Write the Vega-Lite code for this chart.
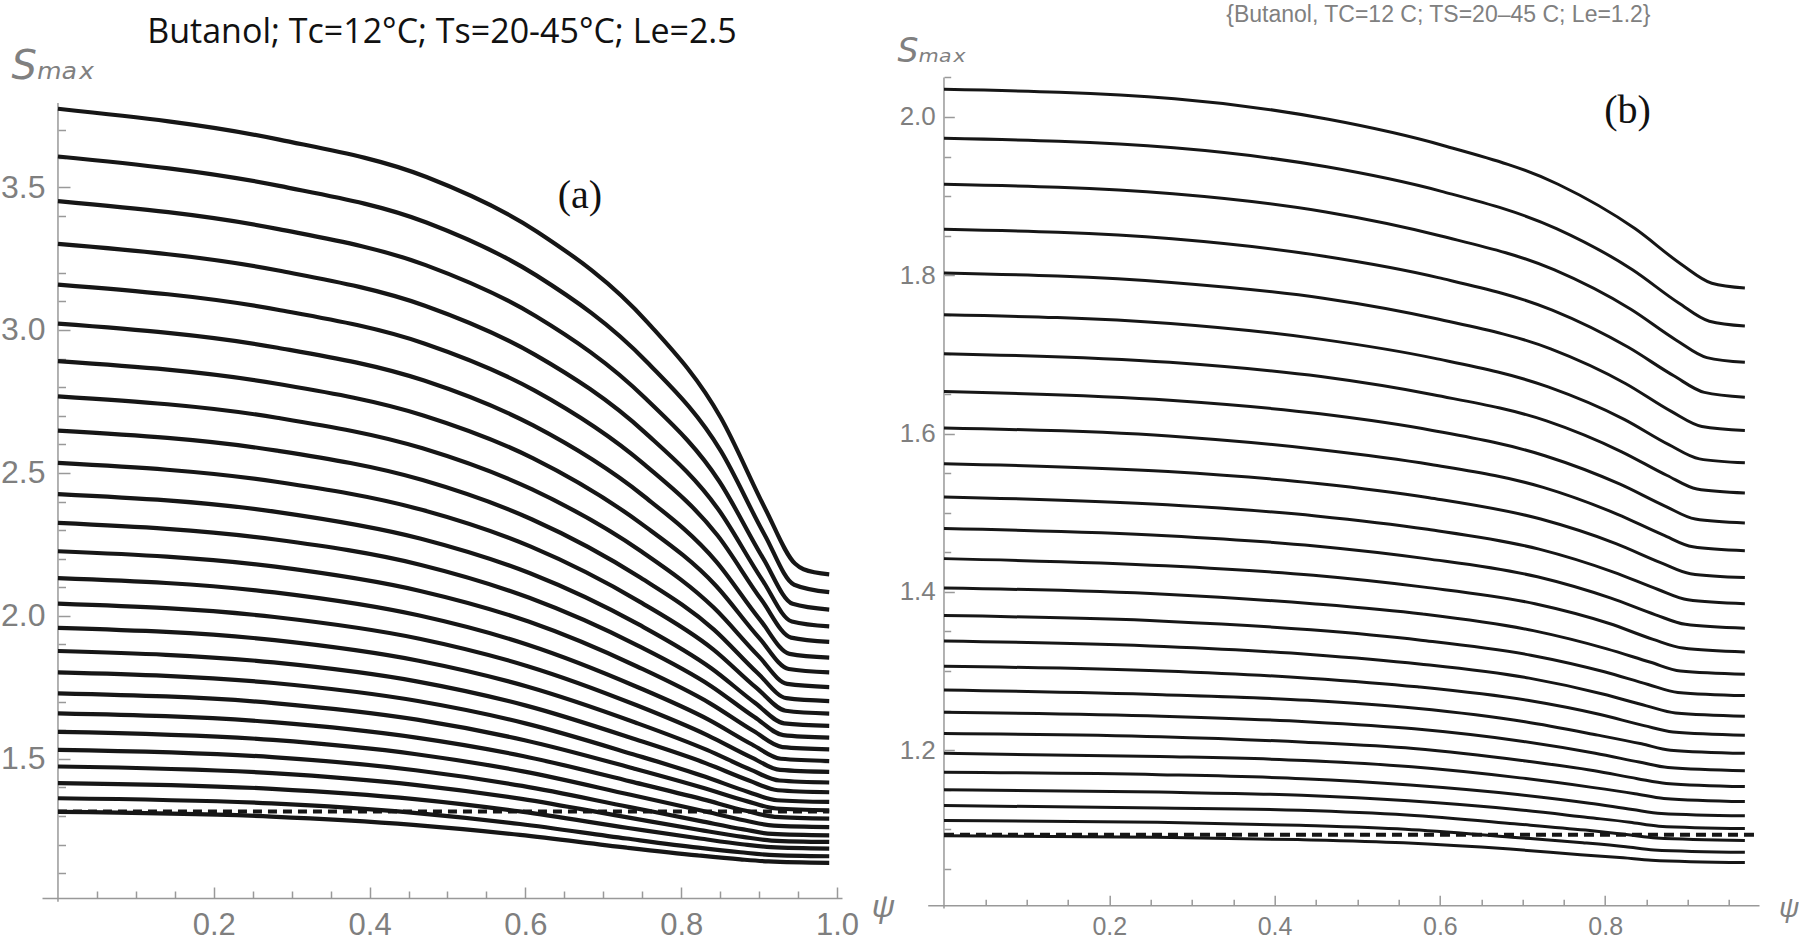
{
"$schema":"https://vega.github.io/schema/vega-lite/v6.json",
"background":"white",
"padding":{"left":0,"top":4,"right":0,"bottom":0},
"bounds":"flush",
"spacing":85.7,
"config":{"view":{"stroke":null}},
"datasets":{
"LA":[{"x":0,"y":1.0,"y2":3.794}],
"RA":[{"x":0,"y":1.0,"y2":2.05}],
"LD":[{"x":0,"y":1.316},{"x":0.99,"y":1.316}],
"RD":[{"x":0,"y":1.093},{"x":0.985,"y":1.093}],
"LT":[{"t":"(a)","x":0.67,"y":3.469}],
"RT":[{"t":"(b)","x":0.827,"y":2.007}],
"L":[
{"c":1,"x":0,"y":3.774},{"c":1,"x":0.284,"y":3.666},{"c":1,"x":0.473,"y":3.535},{"c":1,"x":0.615,"y":3.344},{"c":1,"x":0.757,"y":3.026},{"c":1,"x":0.851,"y":2.692},{"c":1,"x":0.908,"y":2.374},{"c":1,"x":0.946,"y":2.183},{"c":1,"x":0.957,"y":2.163},{"c":1,"x":0.99,"y":2.145},
{"c":2,"x":0,"y":3.607},{"c":2,"x":0.284,"y":3.504},{"c":2,"x":0.473,"y":3.376},{"c":2,"x":0.614,"y":3.191},{"c":2,"x":0.756,"y":2.888},{"c":2,"x":0.851,"y":2.576},{"c":2,"x":0.907,"y":2.284},{"c":2,"x":0.945,"y":2.109},{"c":2,"x":0.99,"y":2.083},
{"c":3,"x":0,"y":3.451},{"c":3,"x":0.283,"y":3.353},{"c":3,"x":0.472,"y":3.227},{"c":3,"x":0.613,"y":3.049},{"c":3,"x":0.754,"y":2.761},{"c":3,"x":0.849,"y":2.470},{"c":3,"x":0.905,"y":2.202},{"c":3,"x":0.943,"y":2.042},{"c":3,"x":0.99,"y":2.022},
{"c":4,"x":0,"y":3.301},{"c":4,"x":0.283,"y":3.208},{"c":4,"x":0.471,"y":3.085},{"c":4,"x":0.612,"y":2.914},{"c":4,"x":0.754,"y":2.640},{"c":4,"x":0.848,"y":2.371},{"c":4,"x":0.904,"y":2.126},{"c":4,"x":0.942,"y":1.980},{"c":4,"x":0.99,"y":1.963},
{"c":5,"x":0,"y":3.159},{"c":5,"x":0.282,"y":3.071},{"c":5,"x":0.471,"y":2.952},{"c":5,"x":0.612,"y":2.788},{"c":5,"x":0.753,"y":2.529},{"c":5,"x":0.847,"y":2.280},{"c":5,"x":0.903,"y":2.056},{"c":5,"x":0.941,"y":1.924},{"c":5,"x":0.99,"y":1.909},
{"c":6,"x":0,"y":3.022},{"c":6,"x":0.282,"y":2.938},{"c":6,"x":0.470,"y":2.823},{"c":6,"x":0.610,"y":2.666},{"c":6,"x":0.751,"y":2.421},{"c":6,"x":0.845,"y":2.190},{"c":6,"x":0.901,"y":1.987},{"c":6,"x":0.939,"y":1.867},{"c":6,"x":0.99,"y":1.854},
{"c":7,"x":0,"y":2.891},{"c":7,"x":0.281,"y":2.812},{"c":7,"x":0.469,"y":2.701},{"c":7,"x":0.610,"y":2.551},{"c":7,"x":0.750,"y":2.320},{"c":7,"x":0.844,"y":2.107},{"c":7,"x":0.900,"y":1.923},{"c":7,"x":0.938,"y":1.814},{"c":7,"x":0.99,"y":1.802},
{"c":8,"x":0,"y":2.768},{"c":8,"x":0.281,"y":2.693},{"c":8,"x":0.468,"y":2.586},{"c":8,"x":0.608,"y":2.443},{"c":8,"x":0.749,"y":2.225},{"c":8,"x":0.842,"y":2.028},{"c":8,"x":0.899,"y":1.860},{"c":8,"x":0.936,"y":1.762},{"c":8,"x":0.99,"y":1.751},
{"c":9,"x":0,"y":2.648},{"c":9,"x":0.281,"y":2.578},{"c":9,"x":0.468,"y":2.475},{"c":9,"x":0.608,"y":2.338},{"c":9,"x":0.748,"y":2.133},{"c":9,"x":0.842,"y":1.952},{"c":9,"x":0.898,"y":1.800},{"c":9,"x":0.935,"y":1.712},{"c":9,"x":0.99,"y":1.702},
{"c":10,"x":0,"y":2.535},{"c":10,"x":0.280,"y":2.469},{"c":10,"x":0.467,"y":2.371},{"c":10,"x":0.607,"y":2.242},{"c":10,"x":0.747,"y":2.049},{"c":10,"x":0.841,"y":1.883},{"c":10,"x":0.897,"y":1.747},{"c":10,"x":0.934,"y":1.668},{"c":10,"x":0.99,"y":1.658},
{"c":11,"x":0,"y":2.426},{"c":11,"x":0.280,"y":2.364},{"c":11,"x":0.466,"y":2.270},{"c":11,"x":0.606,"y":2.149},{"c":11,"x":0.746,"y":1.969},{"c":11,"x":0.839,"y":1.816},{"c":11,"x":0.895,"y":1.695},{"c":11,"x":0.932,"y":1.624},{"c":11,"x":0.99,"y":1.615},
{"c":12,"x":0,"y":2.325},{"c":12,"x":0.279,"y":2.267},{"c":12,"x":0.466,"y":2.178},{"c":12,"x":0.605,"y":2.063},{"c":12,"x":0.745,"y":1.895},{"c":12,"x":0.838,"y":1.755},{"c":12,"x":0.894,"y":1.646},{"c":12,"x":0.931,"y":1.583},{"c":12,"x":0.99,"y":1.574},
{"c":13,"x":0,"y":2.226},{"c":13,"x":0.279,"y":2.172},{"c":13,"x":0.465,"y":2.087},{"c":13,"x":0.605,"y":1.979},{"c":13,"x":0.744,"y":1.822},{"c":13,"x":0.837,"y":1.694},{"c":13,"x":0.893,"y":1.597},{"c":13,"x":0.930,"y":1.541},{"c":13,"x":0.99,"y":1.533},
{"c":14,"x":0,"y":2.132},{"c":14,"x":0.278,"y":2.082},{"c":14,"x":0.464,"y":2.001},{"c":14,"x":0.603,"y":1.899},{"c":14,"x":0.742,"y":1.753},{"c":14,"x":0.835,"y":1.637},{"c":14,"x":0.891,"y":1.550},{"c":14,"x":0.928,"y":1.500},{"c":14,"x":0.99,"y":1.492},
{"c":15,"x":0,"y":2.043},{"c":15,"x":0.278,"y":1.996},{"c":15,"x":0.464,"y":1.920},{"c":15,"x":0.603,"y":1.824},{"c":15,"x":0.742,"y":1.688},{"c":15,"x":0.834,"y":1.582},{"c":15,"x":0.890,"y":1.505},{"c":15,"x":0.927,"y":1.461},{"c":15,"x":0.99,"y":1.454},
{"c":16,"x":0,"y":1.958},{"c":16,"x":0.278,"y":1.915},{"c":16,"x":0.463,"y":1.843},{"c":16,"x":0.602,"y":1.753},{"c":16,"x":0.741,"y":1.627},{"c":16,"x":0.833,"y":1.531},{"c":16,"x":0.889,"y":1.462},{"c":16,"x":0.926,"y":1.424},{"c":16,"x":0.99,"y":1.417},
{"c":17,"x":0,"y":1.877},{"c":17,"x":0.277,"y":1.837},{"c":17,"x":0.462,"y":1.770},{"c":17,"x":0.601,"y":1.686},{"c":17,"x":0.739,"y":1.570},{"c":17,"x":0.832,"y":1.484},{"c":17,"x":0.887,"y":1.424},{"c":17,"x":0.924,"y":1.390},{"c":17,"x":0.99,"y":1.383},
{"c":18,"x":0,"y":1.802},{"c":18,"x":0.277,"y":1.765},{"c":18,"x":0.462,"y":1.702},{"c":18,"x":0.600,"y":1.624},{"c":18,"x":0.738,"y":1.516},{"c":18,"x":0.831,"y":1.437},{"c":18,"x":0.886,"y":1.384},{"c":18,"x":0.923,"y":1.355},{"c":18,"x":0.99,"y":1.349},
{"c":19,"x":0,"y":1.729},{"c":19,"x":0.277,"y":1.695},{"c":19,"x":0.461,"y":1.637},{"c":19,"x":0.599,"y":1.565},{"c":19,"x":0.738,"y":1.467},{"c":19,"x":0.830,"y":1.397},{"c":19,"x":0.885,"y":1.351},{"c":19,"x":0.922,"y":1.326},{"c":19,"x":0.99,"y":1.320},
{"c":20,"x":0,"y":1.659},{"c":20,"x":0.276,"y":1.628},{"c":20,"x":0.460,"y":1.574},{"c":20,"x":0.598,"y":1.509},{"c":20,"x":0.736,"y":1.420},{"c":20,"x":0.828,"y":1.358},{"c":20,"x":0.883,"y":1.318},{"c":20,"x":0.920,"y":1.297},{"c":20,"x":0.99,"y":1.291},
{"c":21,"x":0,"y":1.594},{"c":21,"x":0.276,"y":1.566},{"c":21,"x":0.460,"y":1.516},{"c":21,"x":0.597,"y":1.456},{"c":21,"x":0.735,"y":1.374},{"c":21,"x":0.827,"y":1.318},{"c":21,"x":0.882,"y":1.284},{"c":21,"x":0.919,"y":1.266},{"c":21,"x":0.99,"y":1.261},
{"c":22,"x":0,"y":1.531},{"c":22,"x":0.275,"y":1.506},{"c":22,"x":0.459,"y":1.460},{"c":22,"x":0.596,"y":1.405},{"c":22,"x":0.734,"y":1.331},{"c":22,"x":0.825,"y":1.282},{"c":22,"x":0.880,"y":1.253},{"c":22,"x":0.917,"y":1.237},{"c":22,"x":0.99,"y":1.232},
{"c":23,"x":0,"y":1.473},{"c":23,"x":0.275,"y":1.450},{"c":23,"x":0.458,"y":1.409},{"c":23,"x":0.595,"y":1.360},{"c":23,"x":0.733,"y":1.294},{"c":23,"x":0.824,"y":1.251},{"c":23,"x":0.879,"y":1.227},{"c":23,"x":0.916,"y":1.214},{"c":23,"x":0.99,"y":1.209},
{"c":24,"x":0,"y":1.415},{"c":24,"x":0.275,"y":1.395},{"c":24,"x":0.458,"y":1.359},{"c":24,"x":0.595,"y":1.315},{"c":24,"x":0.732,"y":1.258},{"c":24,"x":0.824,"y":1.221},{"c":24,"x":0.878,"y":1.201},{"c":24,"x":0.915,"y":1.191},{"c":24,"x":0.99,"y":1.186},
{"c":25,"x":0,"y":1.362},{"c":25,"x":0.274,"y":1.344},{"c":25,"x":0.457,"y":1.311},{"c":25,"x":0.593,"y":1.272},{"c":25,"x":0.730,"y":1.221},{"c":25,"x":0.822,"y":1.189},{"c":25,"x":0.876,"y":1.173},{"c":25,"x":0.913,"y":1.164},{"c":25,"x":0.99,"y":1.159},
{"c":26,"x":0,"y":1.314},{"c":26,"x":0.274,"y":1.298},{"c":26,"x":0.456,"y":1.269},{"c":26,"x":0.593,"y":1.234},{"c":26,"x":0.730,"y":1.189},{"c":26,"x":0.821,"y":1.162},{"c":26,"x":0.876,"y":1.148},{"c":26,"x":0.912,"y":1.141},{"c":26,"x":0.99,"y":1.136}
],
"R":[
{"c":1,"x":0,"y":2.035},{"c":1,"x":0.279,"y":2.023},{"c":1,"x":0.465,"y":1.997},{"c":1,"x":0.604,"y":1.964},{"c":1,"x":0.743,"y":1.915},{"c":1,"x":0.836,"y":1.859},{"c":1,"x":0.892,"y":1.814},{"c":1,"x":0.929,"y":1.790},{"c":1,"x":0.969,"y":1.784},
{"c":2,"x":0,"y":1.973},{"c":2,"x":0.278,"y":1.961},{"c":2,"x":0.463,"y":1.937},{"c":2,"x":0.602,"y":1.906},{"c":2,"x":0.741,"y":1.859},{"c":2,"x":0.833,"y":1.807},{"c":2,"x":0.889,"y":1.765},{"c":2,"x":0.926,"y":1.742},{"c":2,"x":0.969,"y":1.736},
{"c":3,"x":0,"y":1.915},{"c":3,"x":0.277,"y":1.903},{"c":3,"x":0.462,"y":1.880},{"c":3,"x":0.600,"y":1.850},{"c":3,"x":0.738,"y":1.807},{"c":3,"x":0.831,"y":1.757},{"c":3,"x":0.886,"y":1.718},{"c":3,"x":0.923,"y":1.696},{"c":3,"x":0.969,"y":1.690},
{"c":4,"x":0,"y":1.858},{"c":4,"x":0.276,"y":1.846},{"c":4,"x":0.460,"y":1.824},{"c":4,"x":0.598,"y":1.797},{"c":4,"x":0.736,"y":1.756},{"c":4,"x":0.828,"y":1.709},{"c":4,"x":0.883,"y":1.673},{"c":4,"x":0.920,"y":1.652},{"c":4,"x":0.969,"y":1.646},
{"c":5,"x":0,"y":1.803},{"c":5,"x":0.275,"y":1.791},{"c":5,"x":0.459,"y":1.771},{"c":5,"x":0.596,"y":1.745},{"c":5,"x":0.734,"y":1.707},{"c":5,"x":0.825,"y":1.663},{"c":5,"x":0.880,"y":1.628},{"c":5,"x":0.917,"y":1.609},{"c":5,"x":0.969,"y":1.604},
{"c":6,"x":0,"y":1.750},{"c":6,"x":0.274,"y":1.739},{"c":6,"x":0.457,"y":1.719},{"c":6,"x":0.594,"y":1.695},{"c":6,"x":0.731,"y":1.659},{"c":6,"x":0.823,"y":1.618},{"c":6,"x":0.877,"y":1.586},{"c":6,"x":0.914,"y":1.568},{"c":6,"x":0.969,"y":1.563},
{"c":7,"x":0,"y":1.701},{"c":7,"x":0.273,"y":1.690},{"c":7,"x":0.456,"y":1.672},{"c":7,"x":0.592,"y":1.649},{"c":7,"x":0.729,"y":1.616},{"c":7,"x":0.820,"y":1.577},{"c":7,"x":0.875,"y":1.547},{"c":7,"x":0.911,"y":1.530},{"c":7,"x":0.969,"y":1.525},
{"c":8,"x":0,"y":1.653},{"c":8,"x":0.273,"y":1.642},{"c":8,"x":0.455,"y":1.625},{"c":8,"x":0.591,"y":1.604},{"c":8,"x":0.727,"y":1.572},{"c":8,"x":0.818,"y":1.536},{"c":8,"x":0.873,"y":1.508},{"c":8,"x":0.909,"y":1.492},{"c":8,"x":0.969,"y":1.487},
{"c":9,"x":0,"y":1.607},{"c":9,"x":0.272,"y":1.597},{"c":9,"x":0.453,"y":1.580},{"c":9,"x":0.589,"y":1.561},{"c":9,"x":0.725,"y":1.532},{"c":9,"x":0.815,"y":1.498},{"c":9,"x":0.870,"y":1.472},{"c":9,"x":0.906,"y":1.457},{"c":9,"x":0.969,"y":1.452},
{"c":10,"x":0,"y":1.562},{"c":10,"x":0.271,"y":1.552},{"c":10,"x":0.452,"y":1.537},{"c":10,"x":0.587,"y":1.519},{"c":10,"x":0.722,"y":1.492},{"c":10,"x":0.813,"y":1.461},{"c":10,"x":0.867,"y":1.437},{"c":10,"x":0.903,"y":1.423},{"c":10,"x":0.969,"y":1.418},
{"c":11,"x":0,"y":1.520},{"c":11,"x":0.270,"y":1.510},{"c":11,"x":0.450,"y":1.496},{"c":11,"x":0.585,"y":1.479},{"c":11,"x":0.720,"y":1.454},{"c":11,"x":0.810,"y":1.425},{"c":11,"x":0.864,"y":1.403},{"c":11,"x":0.900,"y":1.390},{"c":11,"x":0.969,"y":1.385},
{"c":12,"x":0,"y":1.480},{"c":12,"x":0.269,"y":1.471},{"c":12,"x":0.449,"y":1.458},{"c":12,"x":0.583,"y":1.442},{"c":12,"x":0.718,"y":1.419},{"c":12,"x":0.807,"y":1.392},{"c":12,"x":0.861,"y":1.371},{"c":12,"x":0.897,"y":1.359},{"c":12,"x":0.969,"y":1.354},
{"c":13,"x":0,"y":1.442},{"c":13,"x":0.268,"y":1.433},{"c":13,"x":0.447,"y":1.421},{"c":13,"x":0.581,"y":1.406},{"c":13,"x":0.715,"y":1.385},{"c":13,"x":0.805,"y":1.360},{"c":13,"x":0.858,"y":1.340},{"c":13,"x":0.894,"y":1.329},{"c":13,"x":0.969,"y":1.324},
{"c":14,"x":0,"y":1.405},{"c":14,"x":0.267,"y":1.397},{"c":14,"x":0.446,"y":1.385},{"c":14,"x":0.579,"y":1.372},{"c":14,"x":0.713,"y":1.351},{"c":14,"x":0.802,"y":1.328},{"c":14,"x":0.855,"y":1.311},{"c":14,"x":0.891,"y":1.300},{"c":14,"x":0.969,"y":1.296},
{"c":15,"x":0,"y":1.370},{"c":15,"x":0.266,"y":1.363},{"c":15,"x":0.444,"y":1.352},{"c":15,"x":0.577,"y":1.339},{"c":15,"x":0.710,"y":1.320},{"c":15,"x":0.799,"y":1.299},{"c":15,"x":0.852,"y":1.283},{"c":15,"x":0.888,"y":1.273},{"c":15,"x":0.969,"y":1.269},
{"c":16,"x":0,"y":1.338},{"c":16,"x":0.266,"y":1.331},{"c":16,"x":0.443,"y":1.321},{"c":16,"x":0.575,"y":1.309},{"c":16,"x":0.708,"y":1.291},{"c":16,"x":0.797,"y":1.271},{"c":16,"x":0.850,"y":1.256},{"c":16,"x":0.885,"y":1.247},{"c":16,"x":0.969,"y":1.243},
{"c":17,"x":0,"y":1.306},{"c":17,"x":0.265,"y":1.300},{"c":17,"x":0.441,"y":1.291},{"c":17,"x":0.573,"y":1.280},{"c":17,"x":0.706,"y":1.263},{"c":17,"x":0.794,"y":1.245},{"c":17,"x":0.847,"y":1.231},{"c":17,"x":0.882,"y":1.223},{"c":17,"x":0.969,"y":1.219},
{"c":18,"x":0,"y":1.276},{"c":18,"x":0.264,"y":1.270},{"c":18,"x":0.440,"y":1.263},{"c":18,"x":0.571,"y":1.253},{"c":18,"x":0.703,"y":1.236},{"c":18,"x":0.791,"y":1.219},{"c":18,"x":0.844,"y":1.208},{"c":18,"x":0.879,"y":1.200},{"c":18,"x":0.969,"y":1.196},
{"c":19,"x":0,"y":1.248},{"c":19,"x":0.263,"y":1.243},{"c":19,"x":0.438,"y":1.236},{"c":19,"x":0.569,"y":1.227},{"c":19,"x":0.701,"y":1.211},{"c":19,"x":0.788,"y":1.196},{"c":19,"x":0.841,"y":1.185},{"c":19,"x":0.876,"y":1.178},{"c":19,"x":0.969,"y":1.174},
{"c":20,"x":0,"y":1.221},{"c":20,"x":0.262,"y":1.217},{"c":20,"x":0.437,"y":1.210},{"c":20,"x":0.568,"y":1.202},{"c":20,"x":0.699,"y":1.187},{"c":20,"x":0.787,"y":1.174},{"c":20,"x":0.839,"y":1.164},{"c":20,"x":0.874,"y":1.158},{"c":20,"x":0.969,"y":1.154},
{"c":21,"x":0,"y":1.196},{"c":21,"x":0.261,"y":1.192},{"c":21,"x":0.436,"y":1.187},{"c":21,"x":0.566,"y":1.179},{"c":21,"x":0.697,"y":1.165},{"c":21,"x":0.784,"y":1.153},{"c":21,"x":0.836,"y":1.145},{"c":21,"x":0.871,"y":1.139},{"c":21,"x":0.969,"y":1.135},
{"c":22,"x":0,"y":1.172},{"c":22,"x":0.260,"y":1.169},{"c":22,"x":0.434,"y":1.164},{"c":22,"x":0.564,"y":1.156},{"c":22,"x":0.694,"y":1.144},{"c":22,"x":0.781,"y":1.133},{"c":22,"x":0.833,"y":1.125},{"c":22,"x":0.868,"y":1.120},{"c":22,"x":0.969,"y":1.117},
{"c":23,"x":0,"y":1.150},{"c":23,"x":0.260,"y":1.147},{"c":23,"x":0.433,"y":1.143},{"c":23,"x":0.562,"y":1.136},{"c":23,"x":0.692,"y":1.125},{"c":23,"x":0.779,"y":1.115},{"c":23,"x":0.830,"y":1.109},{"c":23,"x":0.865,"y":1.104},{"c":23,"x":0.969,"y":1.101},
{"c":24,"x":0,"y":1.130},{"c":24,"x":0.259,"y":1.127},{"c":24,"x":0.431,"y":1.124},{"c":24,"x":0.560,"y":1.118},{"c":24,"x":0.690,"y":1.107},{"c":24,"x":0.776,"y":1.099},{"c":24,"x":0.828,"y":1.093},{"c":24,"x":0.862,"y":1.089},{"c":24,"x":0.969,"y":1.086},
{"c":25,"x":0,"y":1.111},{"c":25,"x":0.258,"y":1.109},{"c":25,"x":0.430,"y":1.105},{"c":25,"x":0.558,"y":1.100},{"c":25,"x":0.687,"y":1.090},{"c":25,"x":0.773,"y":1.083},{"c":25,"x":0.825,"y":1.078},{"c":25,"x":0.859,"y":1.074},{"c":25,"x":0.969,"y":1.071},
{"c":26,"x":0,"y":1.092},{"c":26,"x":0.257,"y":1.090},{"c":26,"x":0.428,"y":1.087},{"c":26,"x":0.556,"y":1.083},{"c":26,"x":0.685,"y":1.075},{"c":26,"x":0.770,"y":1.068},{"c":26,"x":0.822,"y":1.064},{"c":26,"x":0.856,"y":1.061},{"c":26,"x":0.969,"y":1.058}
]
},
"hconcat":[
{
"width":800,"height":821,
"title":{"text":"Butanol; Tc=12°C; Ts=20-45°C; Le=2.5","font":"Open Sans","fontSize":34,"fontWeight":"normal","color":"#111111","anchor":"middle","frame":"group","offset":1,"dy":5},
"encoding":{
"x":{"field":"x","type":"quantitative","scale":{"domain":[-0.0205,1.0064],"nice":false,"zero":false},
 "axis":{"title":"ψ","titleFont":"Liberation Sans","titleFontSize":32,"titleFontStyle":"italic","titleFontWeight":"normal","titleColor":"#808080","titleX":841,"titleY":8,"titleAlign":"center","titleBaseline":"middle","titleAngle":0,
 "values":[0.05,0.1,0.15,0.2,0.25,0.3,0.35,0.4,0.45,0.5,0.55,0.6,0.65,0.7,0.75,0.8,0.85,0.9,0.95,1.0],
 "labelExpr":"abs(datum.value*5-round(datum.value*5))<0.001 ? format(datum.value,'.1f') : ''",
 "labelFont":"Liberation Sans","labelFontSize":31,"labelColor":"#7f7f7f","labelPadding":23,"labelOverlap":false,"labelFlush":false,"labelBound":false,
 "tickSize":{"condition":{"test":"abs(datum.value*5-round(datum.value*5))<0.001","value":-11},"value":-7},
 "tickColor":"#999999","tickWidth":1.5,"domainColor":"#999999","domainWidth":1.5,"grid":false}},
"y":{"field":"y","type":"quantitative","scale":{"domain":[1.013,3.885],"nice":false,"zero":false},
 "axis":{"title":"Sₘₐₓ","titleFont":"DejaVu Sans","titleFontSize":40,"titleFontStyle":"italic","titleFontWeight":"normal","titleColor":"#808080","titleX":-47,"titleY":1,"titleAlign":"left","titleBaseline":"alphabetic","titleAngle":0,
 "offset":-16,"domain":false,
 "values":[1.1,1.2,1.3,1.4,1.5,1.6,1.7,1.8,1.9,2.0,2.1,2.2,2.3,2.4,2.5,2.6,2.7,2.8,2.9,3.0,3.1,3.2,3.3,3.4,3.5,3.6,3.7],
 "labelExpr":"abs(datum.value*2-round(datum.value*2))<0.001 ? format(datum.value,'.1f') : ''",
 "labelFont":"Liberation Sans","labelFontSize":32,"labelColor":"#7f7f7f","labelPadding":25,"labelOverlap":false,"labelFlush":false,"labelBound":false,
 "tickSize":{"condition":{"test":"abs(datum.value*2-round(datum.value*2))<0.001","value":-12},"value":-7.5},
 "tickColor":"#999999","tickWidth":1.5,"grid":false}}
},
"layer":[
{"data":{"name":"LA"},"mark":{"type":"rule","color":"#999999","strokeWidth":1.5},"encoding":{"y2":{"field":"y2"}}},
{"data":{"name":"L"},"mark":{"type":"line","color":"#161616","strokeWidth":4.2,"interpolate":"monotone"},"encoding":{"detail":{"field":"c","type":"nominal"}}},
{"data":{"name":"LD"},"mark":{"type":"line","color":"#161616","strokeWidth":4,"strokeDash":[9,6]},"encoding":{}},
{"data":{"name":"LT"},"mark":{"type":"text","font":"Liberation Serif","fontSize":40,"color":"#111111","align":"center","baseline":"middle"},"encoding":{"text":{"field":"t"}}}
]
},
{
"width":831.3,"height":828.3,
"title":{"text":"{Butanol, TC=12 C; TS=20–45 C; Le=1.2}","font":"Liberation Sans","fontSize":23,"fontWeight":"normal","color":"#808080","anchor":"middle","frame":"group","offset":8,"dx":95},
"encoding":{
"x":{"field":"x","type":"quantitative","scale":{"domain":[-0.0197,0.9861],"nice":false,"zero":false},
 "axis":{"title":"ψ","titleFont":"Liberation Sans","titleFontSize":28,"titleFontStyle":"italic","titleFontWeight":"normal","titleColor":"#808080","titleX":861,"titleY":3,"titleAlign":"center","titleBaseline":"middle","titleAngle":0,
 "values":[0.05,0.1,0.15,0.2,0.25,0.3,0.35,0.4,0.45,0.5,0.55,0.6,0.65,0.7,0.75,0.8,0.85,0.9,0.95],
 "labelExpr":"abs(datum.value*5-round(datum.value*5))<0.001 ? format(datum.value,'.1f') : ''",
 "labelFont":"Liberation Sans","labelFontSize":25,"labelColor":"#7f7f7f","labelPadding":19,"labelOverlap":false,"labelFlush":false,"labelBound":false,
 "tickSize":{"condition":{"test":"abs(datum.value*5-round(datum.value*5))<0.001","value":-10},"value":-6},
 "tickColor":"#999999","tickWidth":1.5,"domainColor":"#999999","domainWidth":1.5,"grid":false}},
"y":{"field":"y","type":"quantitative","scale":{"domain":[1.004,2.0505],"nice":false,"zero":false},
 "axis":{"title":"Sₘₐₓ","titleFont":"DejaVu Sans","titleFontSize":33,"titleFontStyle":"italic","titleFontWeight":"normal","titleColor":"#808080","titleX":-47,"titleY":-16,"titleAlign":"left","titleBaseline":"alphabetic","titleAngle":0,
 "offset":-16.3,"domain":false,
 "values":[1.05,1.1,1.15,1.2,1.25,1.3,1.35,1.4,1.45,1.5,1.55,1.6,1.65,1.7,1.75,1.8,1.85,1.9,1.95,2.0,2.05],
 "labelExpr":"abs(datum.value*5-round(datum.value*5))<0.001 ? format(datum.value,'.1f') : ''",
 "labelFont":"Liberation Sans","labelFontSize":26,"labelColor":"#7f7f7f","labelPadding":19,"labelOverlap":false,"labelFlush":false,"labelBound":false,
 "tickSize":{"condition":{"test":"abs(datum.value*5-round(datum.value*5))<0.001","value":-10.3},"value":-6.7},
 "tickColor":"#999999","tickWidth":1.5,"grid":false}}
},
"layer":[
{"data":{"name":"RA"},"mark":{"type":"rule","color":"#999999","strokeWidth":1.5},"encoding":{"y2":{"field":"y2"}}},
{"data":{"name":"R"},"mark":{"type":"line","color":"#161616","strokeWidth":3,"interpolate":"monotone"},"encoding":{"detail":{"field":"c","type":"nominal"}}},
{"data":{"name":"RD"},"mark":{"type":"line","color":"#161616","strokeWidth":4,"strokeDash":[10,6]},"encoding":{}},
{"data":{"name":"RT"},"mark":{"type":"text","font":"Liberation Serif","fontSize":40,"color":"#111111","align":"center","baseline":"middle"},"encoding":{"text":{"field":"t"}}}
]
}
]
}
